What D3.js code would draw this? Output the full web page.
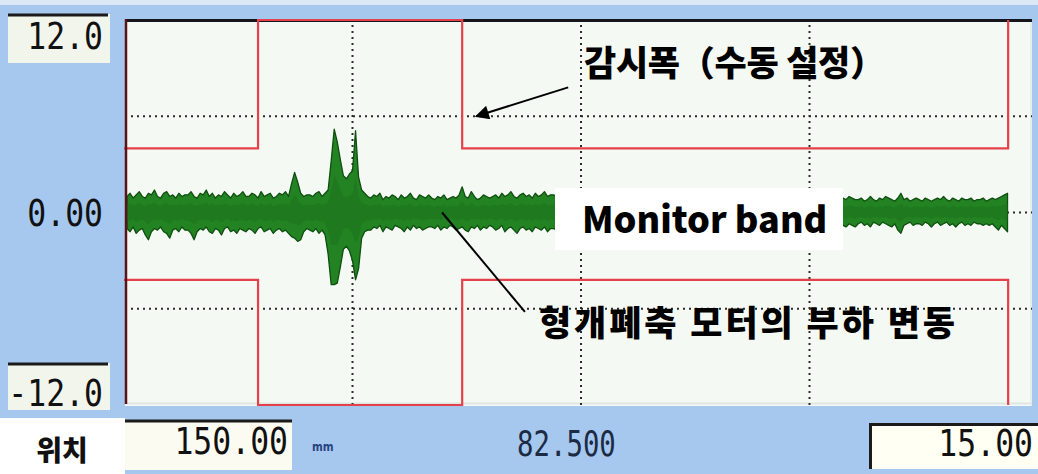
<!DOCTYPE html>
<html>
<head>
<meta charset="utf-8">
<script src="https://cdn.jsdelivr.net/npm/d3@7"></script>
<style>
  html, body { margin: 0; padding: 0; background: #a6c8ef; }
  svg { display: block; }
</style>
</head>
<body>
<svg id="chart" width="1038" height="474"></svg>
<script>
// ---- data -------------------------------------------------------------
// Load axis ticks (vertical) and position grid (mm, horizontal)
const yTickValues = [12, 0, -12];
const yTickLabels = ["12.0", "0.00", "-12.0"];
const gridXValues = [37.5, 75, 112.5];
const gridYValues = [6, 0, -6];

// Monitor band (manual setting): step start positions (mm) and limits
const bandStart = [0, 22, 55.5, 145.1];
const bandUpper = [4.0, 12, 4.0, 12];
const bandLower = [-4.2, -12, -4.2, -12];

// Load signal envelope, one sample every 0.5 mm starting at 0.5 mm
const signalStart = 0.5;
const signalStep = 0.5;
const signalHigh = [
  1.0,1.2,0.9,1.1,1.3,1.0,0.9,1.2,1.1,1.4,1.0,0.9,1.2,1.3,1.0,1.1,0.9,1.2,1.0,1.1,
  1.1,1.3,1.0,0.9,1.2,1.1,1.4,1.0,1.2,0.9,1.1,1.0,1.3,1.1,0.9,1.2,1.0,1.1,1.3,1.0,
  1.0,1.2,1.1,0.9,1.3,1.0,1.1,1.2,0.9,1.0,1.2,1.1,1.3,1.0,1.8,2.5,1.9,1.2,1.0,1.1,
  1.1,1.0,1.2,1.3,1.0,1.2,1.4,3.2,5.2,4.4,3.3,2.3,2.1,2.4,2.6,5.1,2.2,1.4,1.2,1.0,
  0.9,1.1,1.0,1.2,0.8,1.0,0.9,1.1,1.0,0.8,1.1,0.9,1.0,1.2,0.9,0.8,1.1,1.0,0.9,1.1,
  0.9,0.8,1.0,0.9,1.1,0.8,0.9,1.0,0.9,1.1,1.6,1.0,0.9,1.3,1.0,0.8,0.9,1.1,1.0,0.9,
  1.0,1.1,0.9,1.2,1.0,1.1,1.3,1.0,0.9,1.1,1.2,1.0,1.1,0.9,1.2,1.0,1.1,1.3,1.0,1.1,
  1.1,1.0,1.2,0.9,1.0,1.1,1.2,1.0,0.9,1.1,1.0,1.2,1.1,0.9,1.0,1.1,1.2,1.0,1.1,0.9,
  1.0,1.1,0.9,1.0,1.2,1.0,0.9,1.1,1.0,1.2,0.9,1.0,1.1,1.0,0.9,1.2,1.0,1.1,0.9,1.0,
  1.1,0.9,1.0,1.2,1.0,1.1,0.9,1.0,1.1,1.0,1.2,0.9,1.0,1.1,0.9,1.0,1.2,1.0,0.9,1.1,
  1.0,1.1,0.9,1.0,1.1,0.9,1.0,1.2,1.0,0.9,1.1,1.0,0.9,1.1,1.0,1.2,0.9,1.0,1.1,1.0,
  0.9,1.0,1.1,0.9,1.0,1.1,0.9,1.0,0.8,0.9,1.0,0.8,0.9,1.0,0.8,0.9,0.8,1.0,0.9,0.8,
  0.8,0.9,0.7,0.8,1.0,0.8,0.7,0.9,0.8,1.0,0.9,0.8,0.7,0.9,1.2,0.8,0.9,0.7,0.8,0.9,
  0.8,0.7,0.9,0.8,0.7,0.8,0.9,0.8,1.0,0.8,0.7,0.9,0.8,0.7,0.9,0.8,0.8,0.9,0.7,0.8,
  0.8,0.9,0.7,0.8,0.9,0.8,0.9,1.0,1.1,1.2
];
const signalLow = [
  -1.0,-1.2,-0.9,-1.3,-1.1,-1.0,-1.4,-1.7,-1.2,-1.0,-1.1,-0.9,-1.2,-1.3,-1.6,-1.1,-1.0,-1.2,-0.9,-1.1,
  -1.1,-1.3,-1.7,-1.2,-1.0,-1.1,-0.9,-1.2,-1.3,-1.0,-1.1,-1.4,-1.0,-0.9,-1.2,-1.1,-1.3,-1.0,-1.1,-1.2,
  -1.0,-1.1,-1.3,-1.0,-0.9,-1.2,-1.1,-1.0,-1.3,-1.1,-1.0,-1.2,-1.1,-1.3,-1.5,-1.6,-1.8,-1.7,-1.2,-1.0,
  -1.1,-1.2,-1.0,-1.3,-1.1,-1.4,-2.6,-4.5,-4.5,-4.4,-3.4,-2.3,-2.1,-2.4,-3.0,-4.2,-3.5,-1.6,-1.2,-1.1,
  -1.1,-0.9,-1.0,-0.8,-1.2,-0.9,-1.0,-1.1,-0.8,-0.9,-1.0,-1.2,-0.9,-1.1,-0.8,-1.0,-0.9,-1.1,-1.0,-0.9,
  -0.9,-1.0,-0.8,-1.1,-0.9,-1.0,-0.8,-0.9,-1.1,-1.0,-0.9,-1.1,-1.2,-0.9,-1.0,-0.8,-1.1,-0.9,-1.0,-0.8,
  -0.9,-1.1,-1.0,-0.8,-1.2,-1.0,-0.9,-1.1,-1.3,-1.0,-0.9,-1.1,-1.0,-1.2,-0.9,-1.0,-1.1,-0.9,-1.2,-1.0,
  -1.0,-1.1,-0.9,-1.2,-1.0,-0.9,-1.1,-1.0,-1.2,-0.9,-1.0,-1.1,-0.9,-1.0,-1.2,-1.1,-0.9,-1.0,-1.1,-1.0,
  -0.9,-1.0,-1.1,-0.9,-1.2,-1.0,-1.1,-0.9,-1.0,-1.1,-1.2,-0.9,-1.0,-1.1,-0.9,-1.0,-1.2,-1.0,-0.9,-1.1,
  -1.0,-1.1,-0.9,-1.0,-1.2,-0.9,-1.0,-1.1,-1.0,-0.9,-1.1,-1.2,-1.0,-0.9,-1.1,-1.0,-0.9,-1.2,-1.0,-1.1,
  -1.1,-0.9,-1.0,-1.2,-0.9,-1.1,-1.0,-0.9,-1.1,-1.0,-1.2,-0.9,-1.0,-1.1,-0.9,-1.0,-1.1,-0.9,-1.0,-1.2,
  -1.0,-0.9,-1.1,-1.0,-0.8,-0.9,-1.0,-0.8,-0.7,-0.9,-0.8,-0.7,-0.9,-0.8,-0.7,-0.8,-0.9,-0.7,-0.8,-0.9,
  -0.7,-0.6,-0.8,-0.7,-0.9,-0.6,-0.7,-0.8,-0.6,-0.7,-0.8,-0.9,-0.7,-1.1,-1.3,-0.8,-0.7,-0.6,-0.8,-0.7,
  -0.7,-0.8,-0.6,-0.7,-0.9,-0.7,-0.6,-0.8,-0.7,-0.6,-0.8,-0.7,-0.9,-0.7,-0.6,-0.8,-0.7,-0.8,-0.6,-0.7,
  -0.7,-0.8,-0.7,-0.8,-0.7,-0.9,-1.1,-0.8,-1.0,-1.2
];

// Readouts below the plot
const positionLabel = "위치";
const positionValue = "150.00";
const positionUnit = "mm";
const cursorValue = "82.500";
const widthValue = "15.00";

// Callouts: [x mm, load] anchors
const bandCallout = { text: "감시폭（수동 설정）", tail: [72.9, 7.8], tip: [57.8, 6] };
const loadCallout = { text: "형개폐축 모터의 부하 변동", from: [52.2, 0], to: [65.8, -6.2] };
const bandTitle = "Monitor band";

// ---- layout -----------------------------------------------------------
const svg = d3.select("#chart");
const W = 1038, H = 474;
const plot = { left: 125, right: 1032, top: 19, bottom: 406 };

const x = d3.scaleLinear().domain([0, 150]).range([124, 1038]);
const y = d3.scaleLinear().domain([-12, 12]).range([405, 20]);

const monoFont = "'DejaVu Sans Mono', 'Liberation Mono', monospace";
const krFont = "'Noto Sans CJK KR', 'Noto Sans', sans-serif";

// window background and top strip
svg.append("rect").attr("width", W).attr("height", H).attr("fill", "#a6c8ef");
svg.append("rect").attr("width", W).attr("height", 5).attr("fill", "#dce8f6");

// plot area
const clipId = "plot-clip";
svg.append("clipPath").attr("id", clipId).append("rect")
  .attr("x", plot.left).attr("y", plot.top)
  .attr("width", plot.right - plot.left).attr("height", plot.bottom - plot.top);

svg.append("rect")
  .attr("x", plot.left).attr("y", plot.top)
  .attr("width", plot.right - plot.left).attr("height", plot.bottom - plot.top)
  .attr("fill", "#f5f9f3");
svg.append("line")
  .attr("x1", plot.left).attr("x2", plot.right)
  .attr("y1", plot.bottom - 2.5).attr("y2", plot.bottom - 2.5)
  .attr("stroke", "#dfe6e2").attr("stroke-width", 2);
svg.append("line")
  .attr("x1", plot.right - 1).attr("x2", plot.right - 1)
  .attr("y1", plot.top).attr("y2", plot.bottom)
  .attr("stroke", "#e3e9e6").attr("stroke-width", 1.5);

const g = svg.append("g").attr("clip-path", `url(#${clipId})`);

// dotted grid
const dot = { stroke: "#2b2b2b", width: 2, dash: "2,4" };
g.selectAll("line.gx").data(gridXValues).join("line")
  .attr("class", "gx")
  .attr("x1", d => x(d)).attr("x2", d => x(d))
  .attr("y1", plot.top).attr("y2", plot.bottom)
  .attr("stroke", dot.stroke).attr("stroke-width", dot.width)
  .attr("stroke-dasharray", dot.dash);
g.selectAll("line.gy").data(gridYValues).join("line")
  .attr("class", "gy")
  .attr("x1", plot.left).attr("x2", plot.right)
  .attr("y1", d => y(d)).attr("y2", d => y(d))
  .attr("stroke", dot.stroke).attr("stroke-width", dot.width)
  .attr("stroke-dasharray", dot.dash);

// load signal, drawn as its min/max envelope
const signal = signalHigh.map((h, i) => ({
  pos: signalStart + i * signalStep, hi: h, lo: signalLow[i]
}));
g.append("path").datum(signal)
  .attr("d", d3.area().x(d => x(d.pos)).y0(d => y(d.lo)).y1(d => y(d.hi)))
  .attr("fill", "#238323")
  .attr("stroke", "#0e4f10").attr("stroke-width", 1.3).attr("stroke-linejoin", "round");
// darker core along the middle of the trace
g.append("path").datum(signal)
  .attr("d", d3.area().x(d => x(d.pos))
    .y0(d => y(d.lo * 0.45)).y1(d => y(d.hi * 0.45)))
  .attr("fill", "#1c741d").attr("opacity", 0.6);

// monitor band limits
const band = bandStart.map((s, i) => ({ pos: s, up: bandUpper[i], low: bandLower[i] }));
const bandLine = key => d3.line().curve(d3.curveStepAfter)
  .x(d => x(d.pos)).y(d => y(d[key]));

// plot frame (top and left)
svg.append("line")
  .attr("x1", plot.left).attr("x2", plot.right)
  .attr("y1", plot.top + 1.5).attr("y2", plot.top + 1.5)
  .attr("stroke", "#15161c").attr("stroke-width", 3);

svg.append("path").datum(band).attr("d", bandLine("up"))
  .attr("fill", "none").attr("stroke", "#e5414b").attr("stroke-width", 2.2);
svg.append("path").datum(band).attr("d", bandLine("low"))
  .attr("fill", "none").attr("stroke", "#e5414b").attr("stroke-width", 2.2);

svg.append("line")
  .attr("x1", plot.left + 1).attr("x2", plot.left + 1)
  .attr("y1", plot.top).attr("y2", plot.bottom - 2)
  .attr("stroke", "#5a1417").attr("stroke-width", 2.5);

// ---- load axis labels --------------------------------------------------
function labelBox(bx, by, bw, bh, fill) {
  svg.append("rect").attr("x", bx).attr("y", by).attr("width", bw).attr("height", bh)
    .attr("fill", fill);
}
labelBox(8, 14, 102, 49, "#f2f5ec");
svg.append("line").attr("x1", 8).attr("x2", 108).attr("y1", 15).attr("y2", 15)
  .attr("stroke", "#1b1b1b").attr("stroke-width", 3);
labelBox(8, 363, 102, 47, "#f2f5ec");
svg.append("line").attr("x1", 8).attr("x2", 108).attr("y1", 364).attr("y2", 364)
  .attr("stroke", "#1b1b1b").attr("stroke-width", 3);

const tickBaseline = { "12.0": 49, "0.00": 226, "-12.0": 406 };
svg.selectAll("text.ytick").data(yTickValues).join("text")
  .attr("class", "ytick")
  .attr("transform", (d, i) => `translate(103,${tickBaseline[yTickLabels[i]]}) scale(0.85,1)`)
  .attr("text-anchor", "end")
  .attr("font-family", monoFont).attr("font-size", 37)
  .attr("fill", "#111")
  .text((d, i) => yTickLabels[i]);

// ---- bottom readouts ---------------------------------------------------
svg.append("rect").attr("x", 0).attr("y", 418).attr("width", 125).attr("height", 56)
  .attr("fill", "#ffffff");
svg.append("text").attr("x", 62).attr("y", 461).attr("text-anchor", "middle")
  .attr("font-family", krFont).attr("font-weight", 900).attr("font-size", 28)
  .attr("fill", "#111").text(positionLabel);

labelBox(125, 420, 167, 50, "#fbfbf1");
svg.append("line").attr("x1", 125).attr("x2", 292).attr("y1", 421).attr("y2", 421)
  .attr("stroke", "#1b1b1b").attr("stroke-width", 3);
svg.append("text")
  .attr("transform", "translate(288,454) scale(0.85,1)")
  .attr("text-anchor", "end")
  .attr("font-family", monoFont).attr("font-size", 37).attr("fill", "#111")
  .text(positionValue);
svg.append("text")
  .attr("transform", "translate(312,451) scale(0.8,1)")
  .attr("font-family", "'DejaVu Sans', sans-serif").attr("font-weight", 700)
  .attr("font-size", 13).attr("fill", "#27457e")
  .text(positionUnit);

svg.append("text")
  .attr("transform", "translate(517,456) scale(0.76,1)")
  .attr("font-family", monoFont).attr("font-size", 36).attr("fill", "#1b2b45")
  .text(cursorValue);

labelBox(869, 423, 169, 46, "#fffff3");
svg.append("line").attr("x1", 869).attr("x2", 1038).attr("y1", 424.5).attr("y2", 424.5)
  .attr("stroke", "#1b1b1b").attr("stroke-width", 3);
svg.append("line").attr("x1", 870.5).attr("x2", 870.5).attr("y1", 423).attr("y2", 469)
  .attr("stroke", "#1b1b1b").attr("stroke-width", 3);
svg.append("text")
  .attr("transform", "translate(1033,456) scale(0.85,1)")
  .attr("text-anchor", "end")
  .attr("font-family", monoFont).attr("font-size", 37).attr("fill", "#111")
  .text(widthValue);

// ---- callouts ----------------------------------------------------------
svg.append("defs").append("marker")
  .attr("id", "arrowhead").attr("viewBox", "0 0 10 10")
  .attr("refX", 9).attr("refY", 5)
  .attr("markerWidth", 9).attr("markerHeight", 7)
  .attr("markerUnits", "strokeWidth")
  .attr("orient", "auto")
  .append("path").attr("d", "M0,0 L10,5 L0,10 z").attr("fill", "#000");

svg.append("line")
  .attr("x1", x(bandCallout.tail[0])).attr("y1", y(bandCallout.tail[1]))
  .attr("x2", x(bandCallout.tip[0])).attr("y2", y(bandCallout.tip[1]))
  .attr("stroke", "#000").attr("stroke-width", 2)
  .attr("marker-end", "url(#arrowhead)");
svg.append("text").attr("x", 584).attr("y", 76)
  .attr("font-family", krFont).attr("font-weight", 900).attr("font-size", 35)
  .attr("textLength", 301).attr("lengthAdjust", "spacing")
  .attr("fill", "#000").text(bandCallout.text);

svg.append("line")
  .attr("x1", x(loadCallout.from[0])).attr("y1", y(loadCallout.from[1]))
  .attr("x2", x(loadCallout.to[0])).attr("y2", y(loadCallout.to[1]))
  .attr("stroke", "#000").attr("stroke-width", 2);
svg.append("text").attr("x", 539).attr("y", 336)
  .attr("font-family", krFont).attr("font-weight", 900).attr("font-size", 35)
  .attr("textLength", 416).attr("lengthAdjust", "spacing")
  .attr("fill", "#000").text(loadCallout.text);

// title box over the trace
svg.append("rect").attr("x", 555).attr("y", 188).attr("width", 288).attr("height", 62)
  .attr("fill", "#ffffff");
svg.append("text").attr("x", 582).attr("y", 233)
  .attr("font-family", krFont).attr("font-weight", 900).attr("font-size", 36)
  .attr("fill", "#000").text(bandTitle);
</script>
</body>
</html>
